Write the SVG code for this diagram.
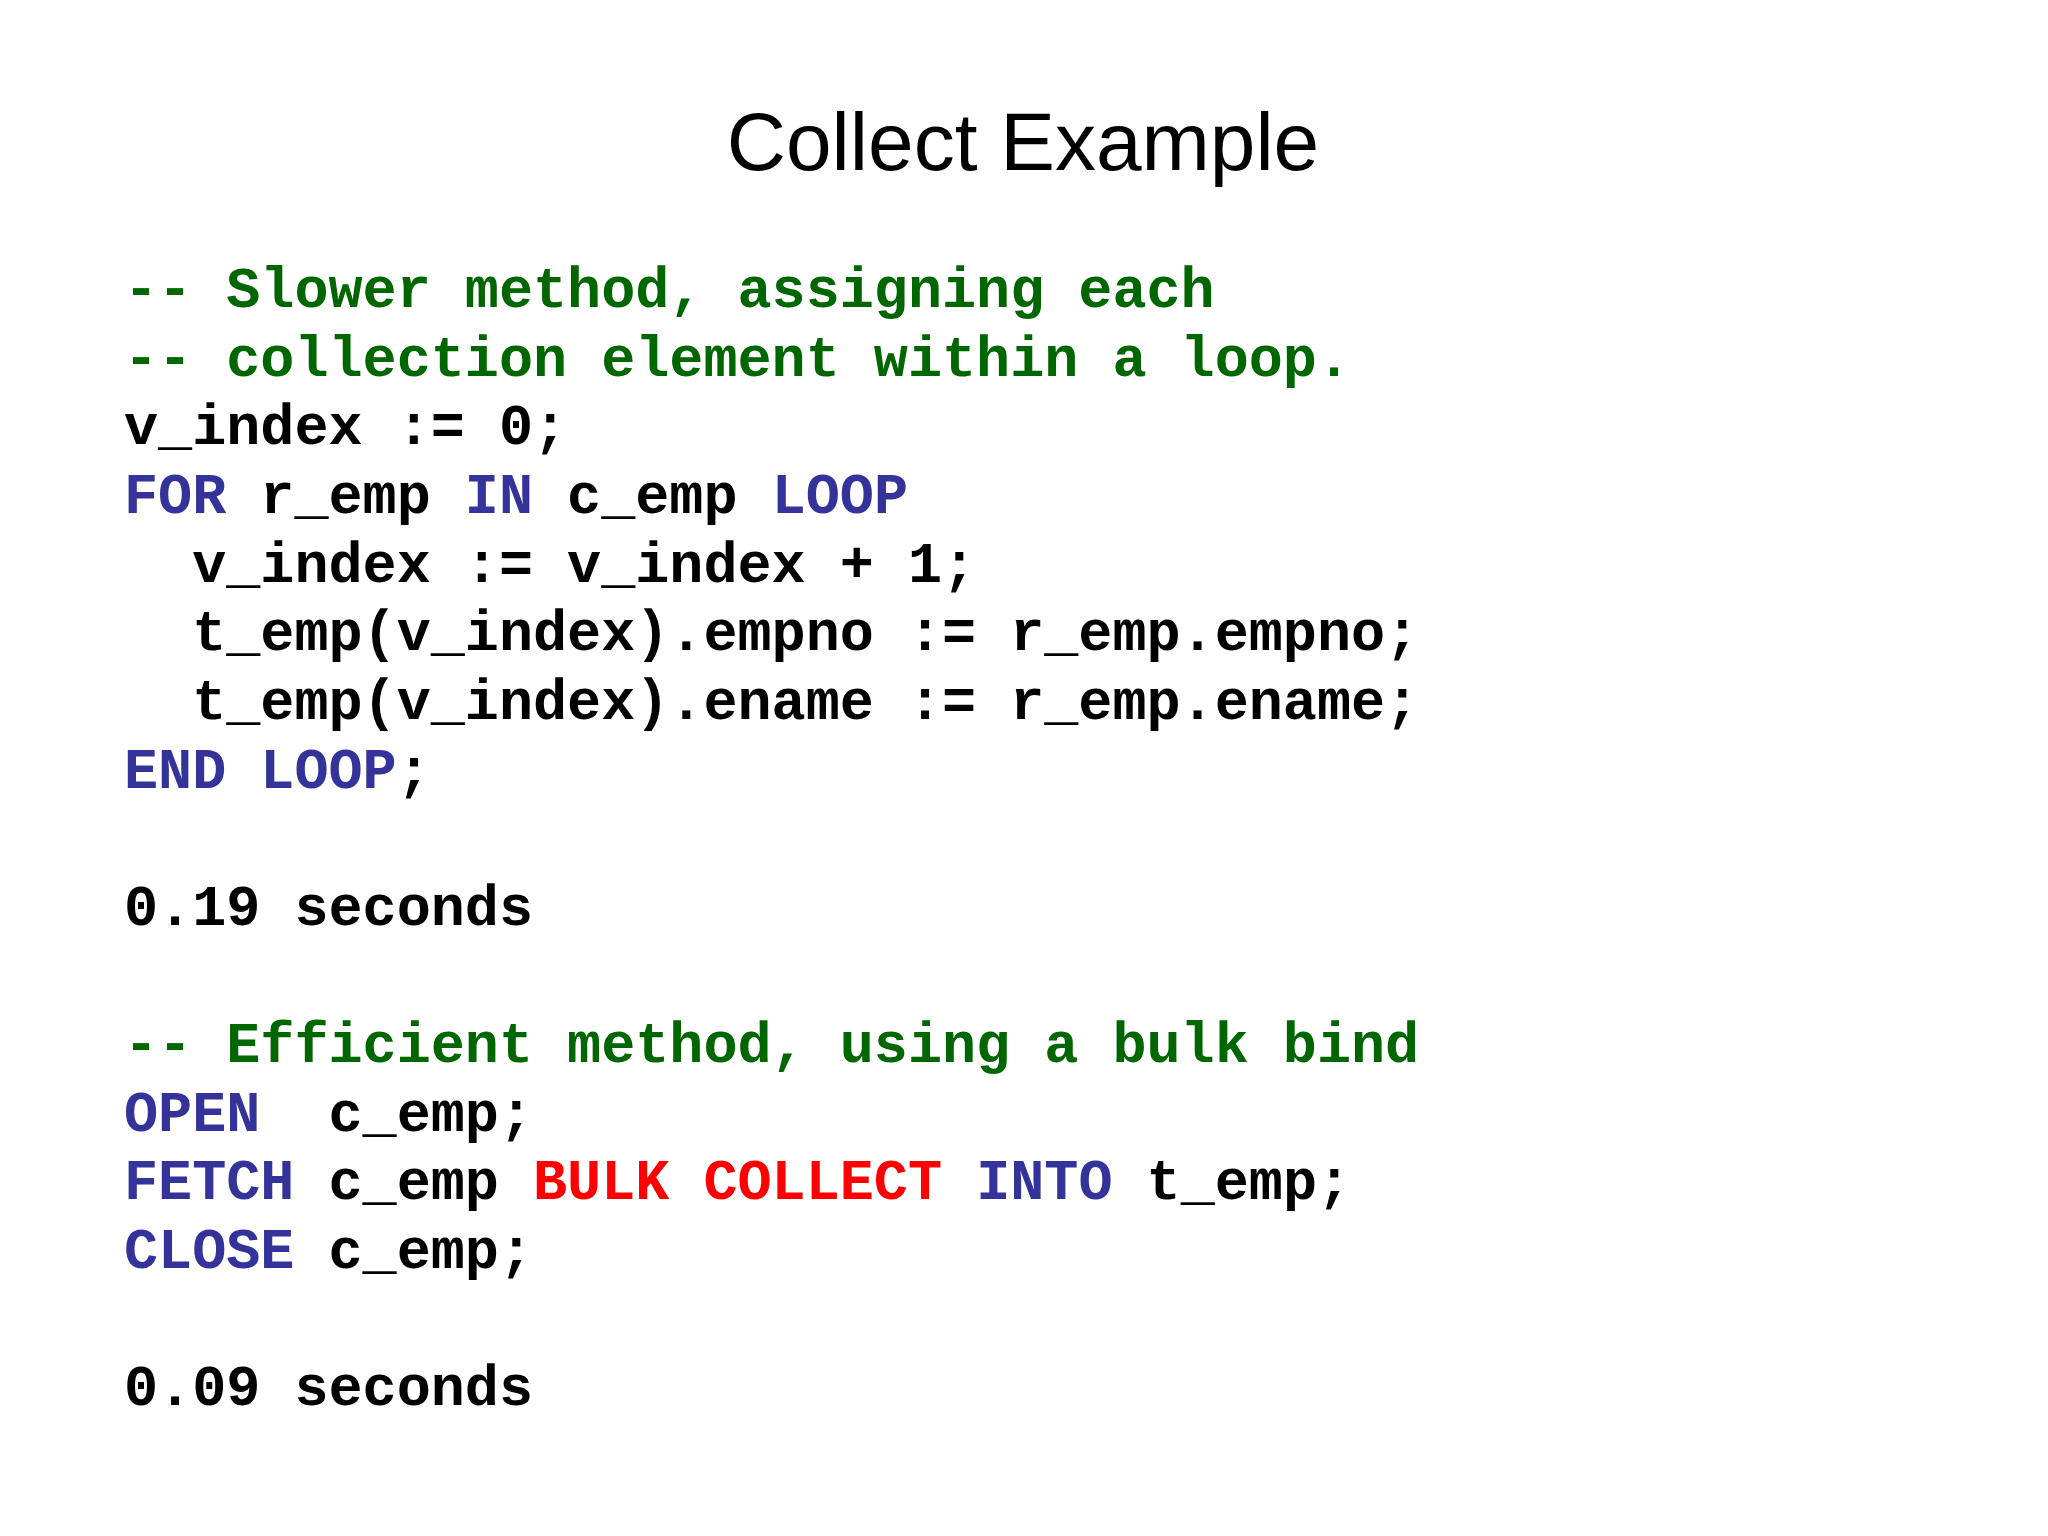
<svg xmlns="http://www.w3.org/2000/svg" width="2048" height="1536" viewBox="0 0 2048 1536">
<style>
.c{font-family:"Liberation Mono","Courier New",monospace;font-weight:bold;font-size:56.8px;fill:#000;white-space:pre}
.g{fill:#006600}.b{fill:#333399}.r{fill:#ff0000}
.t{font-family:"Liberation Sans",Arial,sans-serif;font-size:82px;fill:#000}
</style>
<rect width="2048" height="1536" fill="#fff"/>
<g id="title"><text class="t" x="1023" y="170" text-anchor="middle">Collect Example</text></g>
<g id="code" xml:space="preserve">
<text class="c g" x="124" y="307">-- Slower method, assigning each</text>
<text class="c g" x="124" y="376">-- collection element within a loop.</text>
<text class="c" x="124" y="444">v_index := 0;</text>
<text class="c" x="124" y="513"><tspan class="b">FOR</tspan> r_emp <tspan class="b">IN</tspan> c_emp <tspan class="b">LOOP</tspan></text>
<text class="c" x="124" y="582">  v_index := v_index + 1;</text>
<text class="c" x="124" y="650">  t_emp(v_index).empno := r_emp.empno;</text>
<text class="c" x="124" y="719">  t_emp(v_index).ename := r_emp.ename;</text>
<text class="c" x="124" y="788"><tspan class="b">END LOOP</tspan>;</text>
<text class="c" x="124" y="925">0.19 seconds</text>
<text class="c g" x="124" y="1062">-- Efficient method, using a bulk bind</text>
<text class="c" x="124" y="1131"><tspan class="b">OPEN</tspan>  c_emp;</text>
<text class="c" x="124" y="1199"><tspan class="b">FETCH</tspan> c_emp <tspan class="r">BULK COLLECT</tspan> <tspan class="b">INTO</tspan> t_emp;</text>
<text class="c" x="124" y="1268"><tspan class="b">CLOSE</tspan> c_emp;</text>
<text class="c" x="124" y="1405">0.09 seconds</text>
</g>
</svg>
